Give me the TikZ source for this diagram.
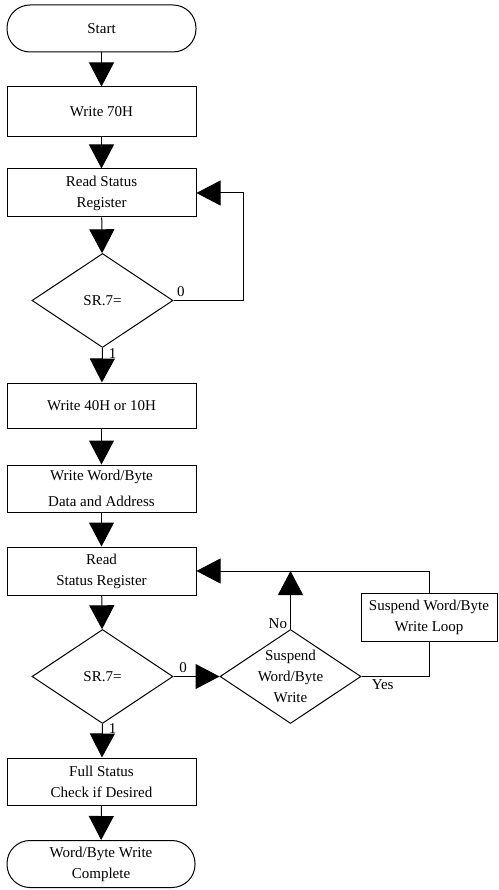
\documentclass[tikz,border=0pt]{standalone}
\usepackage{fontspec}
\setmainfont{Liberation Serif}
\usetikzlibrary{arrows.meta,shapes.geometric}
\tikzset{
  box/.style={draw, line width=1pt, minimum width=189pt, minimum height=47pt, align=center, inner sep=0pt},
  term/.style={box, rounded corners=23pt},
  decision/.style={draw, diamond, line width=1pt, minimum width=141pt, minimum height=94pt, inner sep=0pt},
  flow/.style={line width=1pt, -{Triangle[width=25pt,length=24pt]}},
  link/.style={line width=1pt},
}
\begin{document}
\begin{tikzpicture}[x=1pt,y=-1pt,font=\fontsize{15}{21}\selectfont]
            \useasboundingbox (0,0) rectangle (498,890);
            % top part
            \node[term] at (101.5,28.5) (S) {Start};
            \node[box, minimum height=50pt] at (101.5,112) (W1) {Write 70H};
            \node[box, minimum height=48pt] at (101.5,193) (R1) {Read Status\\Register};
            \node[decision, label={center:SR.7=}] at (102.5,300.5) (D1) {};
            \draw[flow] (S) -- (W1);
            \draw[flow] (W1) -- (R1);
            \draw[flow] (R1) -- (D1);
            \draw[flow] (D1.east) -- ++(70,0) node[pos=0, above right, inner sep=3pt] {0} |- (R1.east);
            % middle part
            \node[box, minimum height=45pt] at (101.5,405.5) (W2) {Write 40H or 10H};
            \node[box] at (101.5,488.5) (W3) {Write Word/Byte\\[5pt]Data and Address};
            \node[box, minimum height=48pt] at (101.5,571) (R2) {Read\\Status Register};
            \draw[flow] (D1.south) -- (W2) node[pos=0.15, right, inner sep=6pt] {1};
            \draw[flow] (W2) -- (W3);
            \draw[flow] (W3) -- (R2);
            \node[decision, label={center:SR.7=}] at (102.5,676.5) (D2) {};
            \draw[flow] (R2) -- (D2);
            % suspend loop
            \node[decision, label={[align=center]center:Suspend\\Word/Byte\\Write}] at (290.5,676.5) (D3) {};
            \node[box, minimum width=136pt, minimum height=48pt] at (429,617) (L) {Suspend Word/Byte\\Write Loop};
            \draw[flow] (D2.east) -- (D3.west) node[pos=0.05, above right, inner sep=3pt] {0};
            \draw[flow] (D3.north) -- (D3.north |- R2.east) node[pos=0.1, left, inner sep=3pt] {No};
            \draw[link] (D3.east) -| (L.south) node[pos=0.05, below right, inner sep=3pt] {Yes};
            \draw[flow] (L.north) |- (R2.east);
            % bottom part
            \node[box] at (101.5,781.5) (F) {Full Status\\Check if Desired};
            \node[term, minimum width=188pt] at (101,864) (E) {Word/Byte Write\\Complete};
            \draw[flow] (D2.south) -- (F) node[pos=0.15, right, inner sep=6pt] {1};
            \draw[flow] (F) -- (E);
          \end{tikzpicture}
\end{document}
